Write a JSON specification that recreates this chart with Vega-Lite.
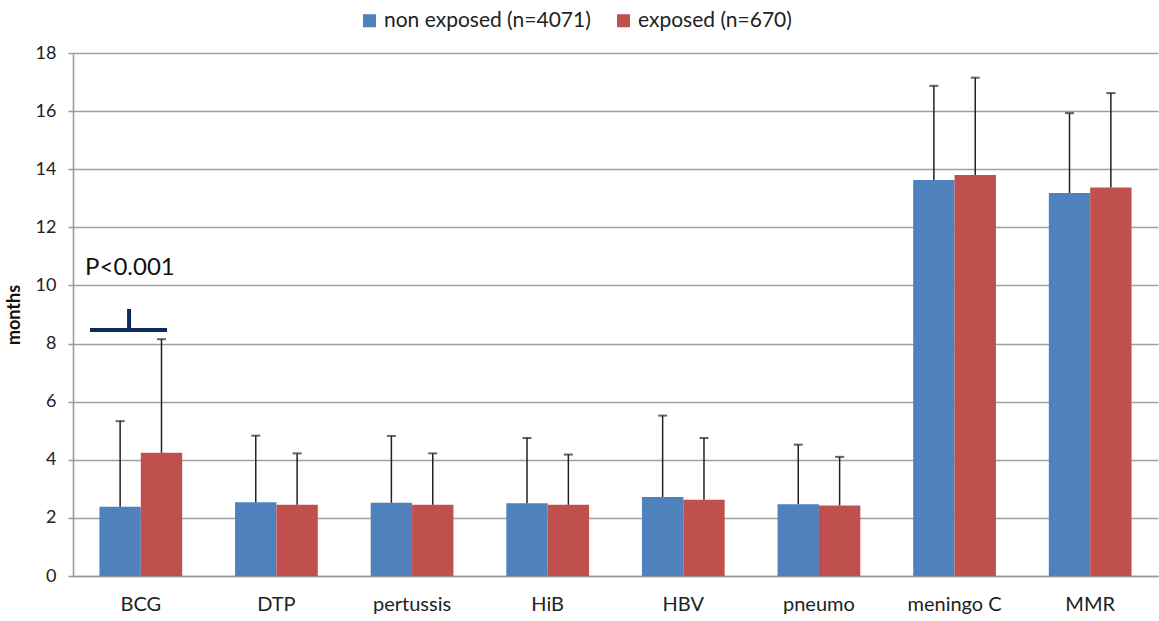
{
  "$schema": "https://vega.github.io/schema/vega-lite/v6.json",
  "width": 1085,
  "height": 523,
  "autosize": "none",
  "padding": {"left": 73, "top": 53, "right": 1, "bottom": 45},
  "background": "white",
  "config": {
    "view": {"stroke": null},
    "font": "Lato",
    "axis": {"labelFont": "Lato", "titleFont": "Lato", "labelColor": "#222", "titleColor": "#111"}
  },
  "datasets": {
    "bars": [
      {"vaccine": "BCG", "group": "non exposed (n=4071)", "mean": 2.38, "upper": 5.33},
      {"vaccine": "BCG", "group": "exposed (n=670)", "mean": 4.24, "upper": 8.15},
      {"vaccine": "DTP", "group": "non exposed (n=4071)", "mean": 2.54, "upper": 4.83},
      {"vaccine": "DTP", "group": "exposed (n=670)", "mean": 2.45, "upper": 4.22},
      {"vaccine": "pertussis", "group": "non exposed (n=4071)", "mean": 2.52, "upper": 4.82},
      {"vaccine": "pertussis", "group": "exposed (n=670)", "mean": 2.45, "upper": 4.22},
      {"vaccine": "HiB", "group": "non exposed (n=4071)", "mean": 2.5, "upper": 4.75},
      {"vaccine": "HiB", "group": "exposed (n=670)", "mean": 2.45, "upper": 4.18},
      {"vaccine": "HBV", "group": "non exposed (n=4071)", "mean": 2.72, "upper": 5.52},
      {"vaccine": "HBV", "group": "exposed (n=670)", "mean": 2.62, "upper": 4.75},
      {"vaccine": "pneumo", "group": "non exposed (n=4071)", "mean": 2.47, "upper": 4.52},
      {"vaccine": "pneumo", "group": "exposed (n=670)", "mean": 2.43, "upper": 4.1},
      {"vaccine": "meningo C", "group": "non exposed (n=4071)", "mean": 13.63, "upper": 16.87},
      {"vaccine": "meningo C", "group": "exposed (n=670)", "mean": 13.8, "upper": 17.15},
      {"vaccine": "MMR", "group": "non exposed (n=4071)", "mean": 13.18, "upper": 15.93},
      {"vaccine": "MMR", "group": "exposed (n=670)", "mean": 13.37, "upper": 16.62}
    ],
    "annot": [
      {"vaccine": "BCG", "label": "P<0.001", "y": 10.6, "bar_y": 8.47, "tick_lo": 8.47, "tick_hi": 9.19}
    ]
  },
  "layer": [
    {
      "data": {"name": "bars"},
      "mark": {"type": "bar", "opacity": 1},
      "encoding": {
        "x": {
          "field": "vaccine", "type": "nominal", "sort": null,
          "scale": {"paddingInner": 0.39, "paddingOuter": 0.195},
          "axis": {"title": null, "labelAngle": 0, "labelFontSize": 20, "labelPadding": 18, "ticks": false, "domainColor": "#999", "domainWidth": 1.5}
        },
        "xOffset": {"field": "group", "type": "nominal", "sort": ["non exposed (n=4071)", "exposed (n=670)"]},
        "y": {
          "field": "mean", "type": "quantitative",
          "scale": {"domain": [0, 18]},
          "axis": {"values": [0, 2, 4, 6, 8, 10, 12, 14, 16, 18], "title": "months", "titleFontSize": 18, "titleFontWeight": "bold", "titlePadding": 12, "labelFontSize": 18, "labelPadding": 12, "tickSize": 5, "tickColor": "#999", "tickWidth": 1.5, "gridColor": "#a0a0a0", "gridWidth": 1.5, "domainColor": "#999", "domainWidth": 1.5}
        },
        "color": {
          "field": "group", "type": "nominal",
          "scale": {"domain": ["non exposed (n=4071)", "exposed (n=670)"], "range": ["#4F81BD", "#C0504D"]},
          "legend": {"title": null, "orient": "none", "legendX": 286, "legendY": -43, "direction": "horizontal", "symbolType": "square", "symbolSize": 170, "symbolStrokeWidth": 0, "labelFontSize": 21, "labelLimit": 400, "labelColor": "#222", "columnPadding": 22, "symbolOpacity": 1}
        }
      }
    },
    {
      "data": {"name": "bars"},
      "mark": {"type": "rule", "color": "#222", "strokeWidth": 1.5},
      "encoding": {
        "x": {"field": "vaccine", "type": "nominal", "sort": null},
        "xOffset": {"field": "group", "type": "nominal", "sort": ["non exposed (n=4071)", "exposed (n=670)"]},
        "y": {"field": "mean", "type": "quantitative"},
        "y2": {"field": "upper"}
      }
    },
    {
      "data": {"name": "bars"},
      "mark": {"type": "tick", "color": "#222", "size": 9, "thickness": 2},
      "encoding": {
        "x": {"field": "vaccine", "type": "nominal", "sort": null},
        "xOffset": {"field": "group", "type": "nominal", "sort": ["non exposed (n=4071)", "exposed (n=670)"]},
        "y": {"field": "upper", "type": "quantitative"}
      }
    },
    {
      "data": {"name": "annot"},
      "mark": {"type": "text", "align": "left", "baseline": "middle", "fontSize": 24, "color": "#111", "font": "Lato"},
      "encoding": {
        "x": {"field": "vaccine", "type": "nominal", "sort": null, "bandPosition": -0.174},
        "y": {"field": "y", "type": "quantitative"},
        "text": {"field": "label"}
      }
    },
    {
      "data": {"name": "annot"},
      "mark": {"type": "rule", "color": "#0f2a5a", "strokeWidth": 4},
      "encoding": {
        "x": {"field": "vaccine", "type": "nominal", "sort": null, "bandPosition": -0.114},
        "x2": {"field": "vaccine", "bandPosition": 0.817},
        "y": {"field": "bar_y", "type": "quantitative"}
      }
    },
    {
      "data": {"name": "annot"},
      "mark": {"type": "rule", "color": "#0f2a5a", "strokeWidth": 4},
      "encoding": {
        "x": {"field": "vaccine", "type": "nominal", "sort": null, "bandPosition": 0.358},
        "y": {"field": "tick_lo", "type": "quantitative"},
        "y2": {"field": "tick_hi"}
      }
    }
  ]
}
